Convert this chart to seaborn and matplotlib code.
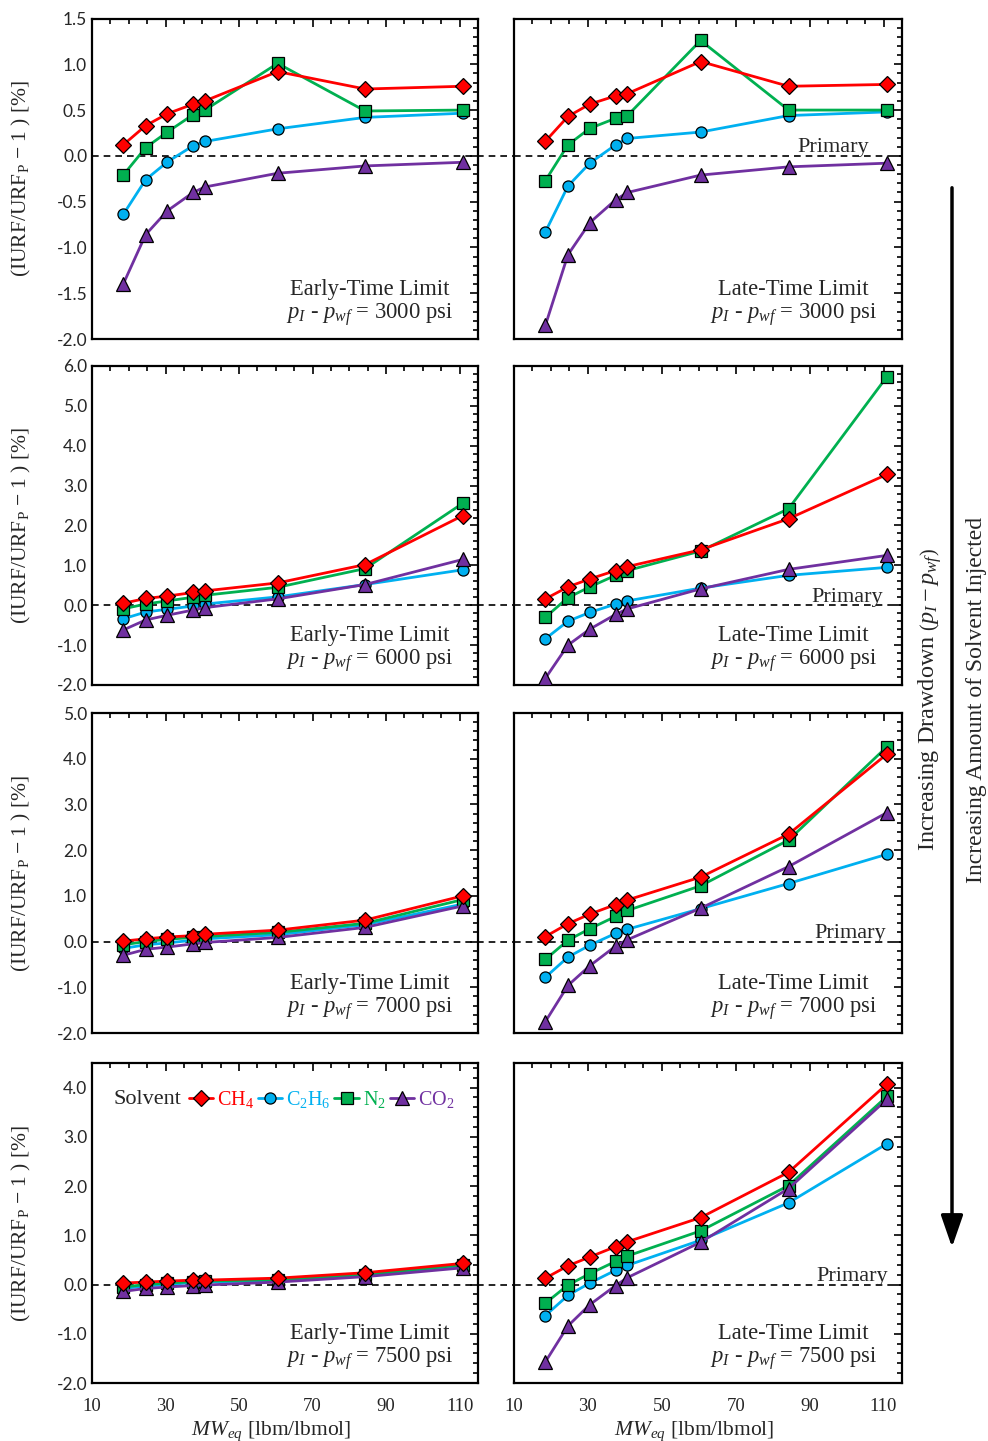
import numpy as np
import pandas as pd
import seaborn as sns
import matplotlib.pyplot as plt
from matplotlib.patches import FancyArrowPatch
from matplotlib.ticker import MultipleLocator, FormatStrFormatter
from matplotlib.lines import Line2D

# equivalent molecular weight of each case [lbm/lbmol]
mw_eq = [18.5, 24.6, 30.5, 37.5, 40.7, 60.5, 84.3, 110.9]
solvents = ['CH4', 'C2H6', 'N2', 'CO2']
drawdowns = [3000, 6000, 7000, 7500]

# (IURF/URF_P - 1) [%], early-time limit
early_3000 = {'CH4': [0.12, 0.33, 0.46, 0.565, 0.60, 0.92, 0.73, 0.76],
              'C2H6': [-0.64, -0.26, -0.066, 0.11, 0.157, 0.295, 0.42, 0.466],
              'N2': [-0.21, 0.09, 0.26, 0.45, 0.50, 1.01, 0.49, 0.50],
              'CO2': [-1.40, -0.86, -0.60, -0.40, -0.34, -0.19, -0.11, -0.07]}
early_6000 = {'CH4': [0.05, 0.17, 0.23, 0.32, 0.36, 0.56, 1.02, 2.25],
              'C2H6': [-0.34, -0.17, -0.10, -0.02, 0.03, 0.21, 0.52, 0.89],
              'N2': [-0.09, 0.03, 0.11, 0.20, 0.25, 0.45, 0.92, 2.56],
              'CO2': [-0.62, -0.37, -0.25, -0.12, -0.06, 0.16, 0.52, 1.15]}
early_7000 = {'CH4': [0.01, 0.06, 0.10, 0.13, 0.16, 0.25, 0.47, 1.00],
              'C2H6': [-0.15, -0.07, -0.03, 0.03, 0.06, 0.15, 0.37, 0.82],
              'N2': [-0.07, 0.00, 0.05, 0.09, 0.11, 0.20, 0.40, 0.92],
              'CO2': [-0.30, -0.17, -0.12, -0.05, -0.02, 0.09, 0.31, 0.78]}
early_7500 = {'CH4': [0.03, 0.05, 0.07, 0.09, 0.09, 0.13, 0.24, 0.43],
              'C2H6': [-0.08, -0.03, 0.00, 0.04, 0.05, 0.08, 0.18, 0.37],
              'N2': [-0.05, 0.00, 0.03, 0.06, 0.07, 0.10, 0.20, 0.40],
              'CO2': [-0.14, -0.08, -0.05, -0.02, -0.01, 0.05, 0.16, 0.34]}

# late-time limit
late_3000 = {'CH4': [0.16, 0.43, 0.565, 0.655, 0.68, 1.03, 0.76, 0.78],
             'C2H6': [-0.83, -0.33, -0.08, 0.12, 0.19, 0.26, 0.44, 0.48],
             'N2': [-0.27, 0.12, 0.30, 0.41, 0.44, 1.26, 0.50, 0.50],
             'CO2': [-1.85, -1.08, -0.73, -0.48, -0.40, -0.21, -0.12, -0.08]}
late_6000 = {'CH4': [0.16, 0.46, 0.66, 0.87, 0.97, 1.39, 2.17, 3.28],
             'C2H6': [-0.84, -0.40, -0.18, 0.03, 0.11, 0.43, 0.75, 0.95],
             'N2': [-0.30, 0.19, 0.46, 0.75, 0.87, 1.36, 2.42, 5.73],
             'CO2': [-1.83, -1.00, -0.60, -0.23, -0.09, 0.41, 0.90, 1.25]}
late_7000 = {'CH4': [0.11, 0.39, 0.60, 0.81, 0.91, 1.41, 2.35, 4.10],
             'C2H6': [-0.78, -0.34, -0.08, 0.18, 0.27, 0.72, 1.27, 1.91],
             'N2': [-0.39, 0.03, 0.28, 0.55, 0.68, 1.22, 2.22, 4.26],
             'CO2': [-1.75, -0.96, -0.53, -0.10, 0.04, 0.73, 1.64, 2.82]}
late_7500 = {'CH4': [0.13, 0.38, 0.56, 0.77, 0.87, 1.36, 2.28, 4.07],
             'C2H6': [-0.63, -0.22, 0.03, 0.29, 0.39, 0.90, 1.66, 2.86],
             'N2': [-0.38, -0.01, 0.22, 0.47, 0.58, 1.09, 2.01, 3.82],
             'CO2': [-1.57, -0.84, -0.41, -0.02, 0.14, 0.86, 1.95, 3.76]}

panels = {('Early', 3000): early_3000, ('Early', 6000): early_6000,
          ('Early', 7000): early_7000, ('Early', 7500): early_7500,
          ('Late', 3000): late_3000, ('Late', 6000): late_6000,
          ('Late', 7000): late_7000, ('Late', 7500): late_7500}

rows = []
for (limit, dd), vals in panels.items():
    for s in solvents:
        for mw, v in zip(mw_eq, vals[s]):
            rows.append({'limit': limit, 'drawdown': dd, 'Solvent': s, 'MW': mw, 'dURF': v})
df = pd.DataFrame(rows)

colors = {'CH4': '#FF0000', 'C2H6': '#00B0F0', 'N2': '#00B050', 'CO2': '#7030A0'}
markers = {'CH4': 'D', 'C2H6': 'o', 'N2': 's', 'CO2': '^'}
msizes = {'CH4': 8, 'C2H6': 8, 'N2': 8, 'CO2': 9.5}
draw_order = ['C2H6', 'N2', 'CO2', 'CH4']
legend_labels = {'CH4': r'CH$_4$', 'C2H6': r'C$_2$H$_6$', 'N2': r'N$_2$', 'CO2': r'CO$_2$'}

sns.set_style("white")
SERIF = 'Liberation Serif'
SANS = 'Lato'
plt.rcParams['font.family'] = [SERIF, 'DejaVu Serif']
plt.rcParams['mathtext.fontset'] = 'custom'
plt.rcParams['mathtext.rm'] = SERIF
plt.rcParams['mathtext.it'] = SERIF + ':italic'
plt.rcParams['mathtext.bf'] = SERIF + ':bold'
plt.rcParams['axes.unicode_minus'] = False

W, H = 988, 1441
fig = plt.figure(figsize=(W / 100, H / 100), dpi=100)

col_px = [(92, 478), (514, 902)]
row_px = [(18.5, 339), (366, 685), (713, 1033), (1063, 1383)]
ylims = [(-2, 1.5), (-2, 6), (-2, 5), (-2, 4.5)]
ymaj = [0.5, 1.0, 1.0, 1.0]
ymin_step = [0.1, 0.2, 0.2, 0.2]
primary_x = [0.915, 0.95, 0.96, 0.965]

for i, dd in enumerate(drawdowns):
    for j, limit in enumerate(['Early', 'Late']):
        x0, x1 = col_px[j]
        t, b = row_px[i]
        ax = fig.add_axes([x0 / W, 1 - b / H, (x1 - x0) / W, (b - t) / H])
        sub = df[(df['limit'] == limit) & (df['drawdown'] == dd)]
        for s in draw_order:
            sns.lineplot(data=sub[sub['Solvent'] == s], x='MW', y='dURF', color=colors[s],
                         marker=markers[s], markersize=msizes[s], markeredgecolor='black',
                         markeredgewidth=0.9, linewidth=2, sort=False, ax=ax, zorder=3)
        ax.set_xlim(10, 115)
        ax.set_ylim(*ylims[i])
        ax.set_xticks(np.arange(10, 111, 20))
        ax.xaxis.set_minor_locator(MultipleLocator(5))
        ax.yaxis.set_major_locator(MultipleLocator(ymaj[i]))
        ax.yaxis.set_minor_locator(MultipleLocator(ymin_step[i]))
        ax.yaxis.set_major_formatter(FormatStrFormatter('%.1f'))
        ax.tick_params(which='both', direction='in', top=True, right=True, width=1.2, color='black')
        ax.tick_params(which='major', length=6)
        ax.tick_params(which='minor', length=3.5)
        for sp in ax.spines.values():
            sp.set_linewidth(1.6)
            sp.set_color('black')

        # primary (zero) reference line
        if j == 0:
            ax.axhline(0, xmin=0, xmax=1.095, color='black', linestyle=(0, (4, 3)),
                       linewidth=1.2, clip_on=False, zorder=1)
            ax.set_ylabel(r'(IURF/URF$_{\mathrm{P}}$ $-$ 1 ) [%]', fontsize=15.5)
            ax.yaxis.set_label_coords(-0.152, 0.5)
            for lab in ax.get_yticklabels():
                lab.set_fontfamily(SANS)
                lab.set_fontsize(12.5)
        else:
            ax.axhline(0, color='black', linestyle=(0, (4, 3)), linewidth=1.2, zorder=1)
            ax.set_ylabel('')
            ax.set_yticklabels([])
            ax.annotate('Primary', xy=(primary_x[i], 0), xycoords=('axes fraction', 'data'),
                        xytext=(0, 2.5), textcoords='offset points',
                        ha='right', va='baseline', fontsize=16)

        if i == 3:
            ax.set_xlabel(r'$MW_{eq}$ [lbm/lbmol]', fontsize=15.5, labelpad=0)
            ax.xaxis.set_label_coords(0.465, -0.115)
            ax.tick_params(axis='x', labelsize=13.5, pad=11)
        else:
            ax.set_xlabel('')
            ax.set_xticklabels([])

        title = 'Early-Time Limit' if limit == 'Early' else 'Late-Time Limit'
        ax.text(0.72, 0.035, title + '\n' + r'$p_I$ - $p_{wf}$ = ' + f'{dd} psi',
                transform=ax.transAxes, ha='center', va='bottom', fontsize=16.3,
                multialignment='center', linespacing=1.05)

        if i == 3 and j == 0:
            ax.text(0.055, 0.8875, 'Solvent', transform=ax.transAxes, ha='left',
                    va='center', fontsize=16)
            handles = [Line2D([], [], color=colors[s], marker=markers[s], markersize=msizes[s],
                              markeredgecolor='black', markeredgewidth=0.9, linewidth=2)
                       for s in solvents]
            ax.legend(handles, [legend_labels[s] for s in solvents], ncol=4,
                      loc='center left', bbox_to_anchor=(0.25, 0.885), frameon=False,
                      handlelength=1.2, handletextpad=0.2, columnspacing=0.2,
                      borderpad=0, borderaxespad=0, fontsize=14.5,
                      labelcolor=[colors[s] for s in solvents])

# right-hand annotation: drawdown arrow
fig.patches.append(FancyArrowPatch(
    (952 / W, 1 - 185 / H), (952 / W, 1 - 1250 / H), transform=fig.transFigure,
    arrowstyle='-|>,head_length=1.3,head_width=0.45', mutation_scale=15,
    linewidth=2.5, color='black'))
fig.text(930 / W, 1 - 700 / H, r'Increasing Drawdown $\left(p_I - p_{wf}\right)$',
         rotation=90, ha='center', va='center', fontsize=17.5)
fig.text(976 / W, 1 - 700 / H, 'Increasing Amount of Solvent Injected',
         rotation=90, ha='center', va='center', fontsize=17)

fig.savefig('out.png', dpi=100)
